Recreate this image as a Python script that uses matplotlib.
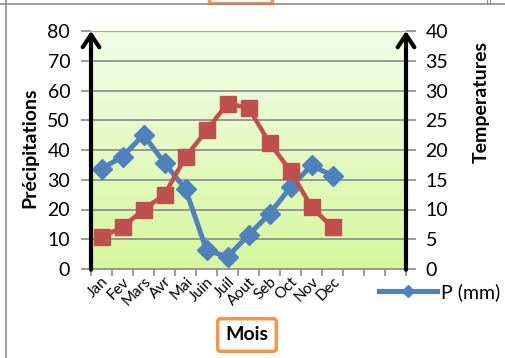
import numpy as np
import matplotlib.pyplot as plt
from matplotlib.lines import Line2D
from matplotlib.patches import Rectangle

plt.rcParams['font.family'] = ['Lato', 'DejaVu Sans']

# data
mois = ['Jan', 'Fev', 'Mars', 'Avr', 'Mai', 'Juin', 'Juil', 'Aout', 'Seb', 'Oct', 'Nov', 'Dec']
n_slots = 15   # the category axis has 3 empty slots after Dec
precip = [33.7, 37.8, 45.1, 35.6, 26.9, 6.4, 4.1, 11.4, 18.5, 27.5, 34.8, 31.4]
temp = [5.4, 7.0, 10.0, 12.5, 18.8, 23.3, 27.8, 27.1, 21.2, 16.5, 10.4, 7.0]
p_ticks = np.arange(0, 81, 10)
t_ticks = np.arange(0, 41, 5)

blue = '#4F81BD'
red = '#C0504D'
orange = '#F79646'
W, H = 505, 358

fig = plt.figure(figsize=(W / 100, H / 100), dpi=100)
ax = fig.add_axes([91 / W, 1 - 269 / H, (406 - 91) / W, (269 - 31) / H])

# plot area gradient background
grad = np.linspace(0, 1, 256).reshape(-1, 1)
top_c = np.array([0.95, 0.99, 0.91])
bot_c = np.array([0.84, 0.97, 0.62])
img = top_c + (bot_c - top_c) * grad[:, :, None]
ax.imshow(img, extent=[0, 1, 0, 1], transform=ax.transAxes, aspect='auto', zorder=0)

x = np.arange(len(mois)) + 0.5
ax.set_xlim(0, n_slots)
ax.set_ylim(0, 80)
ax.set_yticks(p_ticks)
for v in p_ticks[1:-1]:
    ax.axhline(v, color='#8A8A8A', lw=1.2, zorder=1)
ax.axhline(80, color='#9BBB59', lw=1.6, zorder=1)

ax.plot(x, precip, color=blue, lw=3.6, marker='D', ms=10, zorder=3)

ax.set_xticks(np.arange(n_slots + 1))
ax.set_xticklabels([])
ax.set_xticks(x, minor=True)
ax.set_xticklabels(mois, minor=True, rotation=45, ha='right', va='top',
                   rotation_mode='anchor', fontsize=11)
ax.tick_params(axis='x', which='minor', length=0, pad=4)
ax.tick_params(axis='x', which='major', length=5, color='#8A8A8A', width=1.2)
ax.tick_params(axis='y', length=7, color='#8A8A8A', width=1.2, labelsize=14, pad=8)
for s in ['top', 'right', 'left']:
    ax.spines[s].set_visible(False)
ax.spines['bottom'].set_color('#8A8A8A')
ax.spines['bottom'].set_linewidth(1.2)

ax2 = ax.twinx()
ax2.set_ylim(0, 40)
ax2.set_yticks(t_ticks)
ax2.plot(x, temp, color=red, lw=3.2, marker='s', ms=12, zorder=3)
ax2.tick_params(axis='y', length=7, color='#8A8A8A', width=1.2, labelsize=14, pad=7)
for s in ax2.spines.values():
    s.set_visible(False)

# black arrows on both vertical axes
for xa in (0, 1):
    ax2.annotate('', xy=(xa, 1.0), xytext=(xa, -0.003), xycoords='axes fraction',
                 arrowprops=dict(arrowstyle='->,head_length=0.9,head_width=0.6',
                                 lw=3, color='black', shrinkA=0, shrinkB=0))

fig.text(30 / W, 1 - 148 / H, 'Précipitations', rotation=90, ha='center', va='center',
         fontsize=14, fontweight='bold')
fig.text(481 / W, 1 - 102 / H, 'Temperatures', rotation=90, ha='center', va='center',
         fontsize=14, fontweight='bold')
fig.text(247 / W, 1 - 335 / H, 'Mois', ha='center', va='center', fontsize=14,
         fontweight='bold',
         bbox=dict(boxstyle='round,pad=0.4,rounding_size=0.15', fc='white', ec=orange, lw=2.5))

# legend (only P visible)
handle = Line2D([], [], color=blue, lw=3.6, marker='D', ms=6)
fig.legend([handle], ['P (mm)'], loc='center left', bbox_to_anchor=(379 / W, 1 - 292 / H),
           frameon=False, fontsize=14, handlelength=3.0, handletextpad=0.2,
           borderpad=0, borderaxespad=0)

# chart frame pieces from the surrounding sheet
fig.add_artist(Line2D([0, 1], [1 - 4 / H, 1 - 4 / H], color='#8C8C8C', lw=1.2,
                      transform=fig.transFigure))
fig.add_artist(Line2D([6 / W, 6 / W], [0, 1], color='#8C8C8C', lw=1.2,
                      transform=fig.transFigure))
for xv in (487, 490):
    fig.add_artist(Line2D([xv / W, xv / W], [1 - 4 / H, 1], color='#8C8C8C', lw=0.8,
                          transform=fig.transFigure))
fig.add_artist(Rectangle((209 / W, 1 - 3 / H), 63 / W, 0.05, transform=fig.transFigure,
                         fc='white', ec=orange, lw=2.5))

fig.savefig('out.png', dpi=100)
